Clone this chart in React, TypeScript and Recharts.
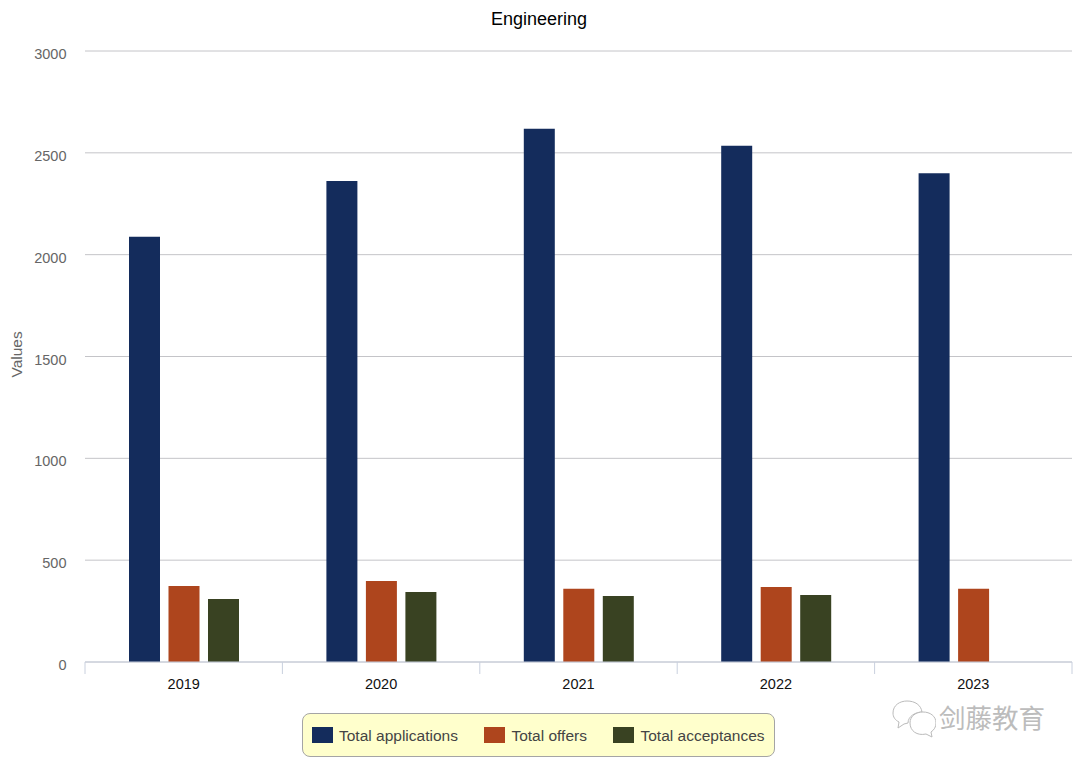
import React from 'react';
import { BarChart, Bar, XAxis, YAxis, CartesianGrid, Legend } from 'recharts';

const years = ['2019', '2020', '2021', '2022', '2023'];
const applications = [2088, 2362, 2618, 2535, 2400];
const offers = [373, 398, 360, 368, 360];
const acceptances = [309, 344, 324, 329, null];
const yTicks = [0, 500, 1000, 1500, 2000, 2500, 3000];

const seriesNames = ['Total applications', 'Total offers', 'Total acceptances'];
const seriesColors = ['#142c5c', '#ae451d', '#394222'];

const data = years.map((year, i) => ({
  year,
  applications: applications[i],
  offers: offers[i],
  acceptances: acceptances[i],
}));

const FONT = '"Liberation Sans", Arial, sans-serif';
const AXIS_COLOR = '#c9d0de';

const YearTick = ({ x, y, payload, index }: any) => {
  const half = payload.offset ?? 98.8;
  return (
    <g>
      <line x1={x - half} x2={x - half} y1={y - 8} y2={y + 4} stroke={AXIS_COLOR} />
      {index === years.length - 1 && (
        <line x1={x + half} x2={x + half} y1={y - 8} y2={y + 4} stroke={AXIS_COLOR} />
      )}
      <text x={x} y={y + 19} textAnchor="middle" fontSize={14.5} fontFamily={FONT} fill="#111">
        {payload.value}
      </text>
    </g>
  );
};

const LegendBox = () => (
  <div
    style={{
      boxSizing: 'border-box',
      width: 473,
      height: 44,
      background: '#ffffcc',
      border: '1px solid #a5a5a5',
      borderRadius: 8,
      display: 'flex',
      alignItems: 'center',
      paddingLeft: 9,
      fontFamily: FONT,
      fontSize: 15.5,
      color: '#444',
      whiteSpace: 'nowrap',
    }}
  >
    {seriesNames.map((name, i) => (
      <span key={name} style={{ display: 'flex', alignItems: 'center', marginRight: 26.5 }}>
        <span style={{ width: 21, height: 16, background: seriesColors[i], marginRight: 6 }} />
        <span style={{ position: 'relative', top: 1 }}>{name}</span>
      </span>
    ))}
  </div>
);

const Watermark = () => (
  <div style={{ position: 'absolute', left: 890, top: 698, width: 170, height: 42 }}>
    <svg width={46} height={40} style={{ position: 'absolute', left: 0, top: 0 }}>
      <g fill="#fff" stroke="#bbb" strokeWidth={1}>
        <path d="M3 15 C3 7 10 3 17 3 C25 3 31 7 32 14 C26 14 18 18 18 25 L14 26 L8 30 L9 24 C5 22 3 19 3 15 Z" />
        <path d="M20 25 C20 18 26 14 33 14 C40 14 46 18 46 25 C46 29 44 32 41 34 L42 39 L36 36 C27 38 20 33 20 25 Z" />
      </g>
    </svg>
    <span
      style={{
        position: 'absolute',
        left: 49,
        top: 3,
        fontFamily: '"Noto Sans CJK SC"',
        fontSize: 26.5,
        lineHeight: '32px',
        color: '#bcbcbc',
        whiteSpace: 'nowrap',
      }}
    >
      剑藤教育
    </span>
  </div>
);

export default function App() {
  return (
    <div style={{ position: 'absolute', left: 0, top: 0, width: 1080, height: 766, background: '#fff' }}>
      <BarChart
        width={1080}
        height={766}
        data={data}
        barSize={31}
        barGap={8.5}
        margin={{ top: 51, right: 8, bottom: 0, left: 0 }}
      >
        <text x={539} y={25} textAnchor="middle" fontSize={18} fontFamily={FONT} fill="#000">
          Engineering
        </text>
        <CartesianGrid vertical={false} stroke="#c4c4c8" strokeWidth={1} />
        <XAxis
          dataKey="year"
          height={60}
          interval={0}
          tickLine={false}
          axisLine={{ stroke: AXIS_COLOR }}
          tick={<YearTick />}
        />
        <YAxis
          width={85}
          domain={[0, 3000]}
          ticks={yTicks}
          axisLine={false}
          tickLine={false}
          tickMargin={12.5}
          tick={{ fontSize: 14.5, fontFamily: FONT, fill: '#666', dy: 3 }}
          label={{
            value: 'Values',
            angle: -90,
            position: 'insideLeft',
            offset: 16,
            fontSize: 15.5,
            fontFamily: FONT,
            fill: '#666',
            dy: 21,
          }}
        />
        <Legend
          content={<LegendBox />}
          verticalAlign="bottom"
          height={44}
          wrapperStyle={{ left: 302, width: 473, bottom: 9 }}
        />
        <Bar dataKey="applications" fill={seriesColors[0]} isAnimationActive={false} />
        <Bar dataKey="offers" fill={seriesColors[1]} isAnimationActive={false} />
        <Bar dataKey="acceptances" fill={seriesColors[2]} isAnimationActive={false} />
      </BarChart>
      <Watermark />
    </div>
  );
}
